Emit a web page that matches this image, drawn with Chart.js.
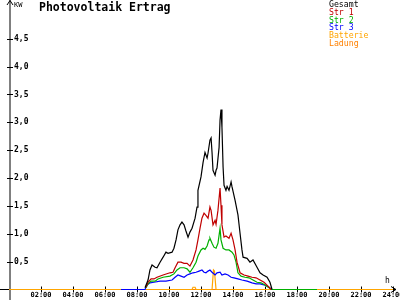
<!DOCTYPE html>
<html>
<head>
<meta charset="utf-8">
<script src="https://cdn.jsdelivr.net/npm/chart.js@4"></script>
<style>
  html, body { margin: 0; padding: 0; background: #fff; }
  #wrap { position: relative; width: 400px; height: 300px; overflow: hidden; }
  #title { position: absolute; left: 39px; top: 0px; font: bold 11.5px "DejaVu Sans Mono", monospace; color: #000; white-space: nowrap; }
  #unit { position: absolute; left: 14px; top: 1px; font: 7px "DejaVu Sans Mono", monospace; color: #000; }
  #hour { position: absolute; left: 385px; top: 276px; font: 8px "DejaVu Sans Mono", monospace; color: #000; }
  #legend { position: absolute; left: 329px; top: 1px; font: 8.2px "DejaVu Sans Mono", monospace; line-height: 7.8px; }
</style>
</head>
<body>
<div id="wrap">
  <canvas id="canvas"></canvas>
  <div id="title">Photovoltaik Ertrag</div>
  <div id="unit">KW</div>
  <div id="hour">h</div>
  <div id="legend"></div>
</div>
<script>
// series names and colours
const seriesNames = ['Gesamt', 'Str 1', 'Str 2', 'Str 3', 'Batterie', 'Ladung'];
const seriesColors = ['#000000', '#c00000', '#00b000', '#0000ff', '#ffa500', '#ff8000'];

// axis ticks
const hourTicks = [2, 4, 6, 8, 10, 12, 14, 16, 18, 20, 22, 24];
const kwTicks = [0.5, 1.0, 1.5, 2.0, 2.5, 3.0, 3.5, 4.0, 4.5];

// Gesamt (hour, kW)
const gesamtTime = [8.5, 8.69, 8.81, 8.94, 9.13, 9.25, 9.44, 9.63, 9.81, 9.94, 10.19, 10.31, 10.44, 10.56, 10.69, 10.81, 10.94, 11.06, 11.19, 11.31, 11.44, 11.63, 11.75, 11.81, 12.0, 12.13, 12.25, 12.38, 12.44, 12.56, 12.63, 12.69, 12.75, 12.88, 12.94, 13.0, 13.13, 13.19, 13.25, 13.31, 13.38, 13.44, 13.56, 13.63, 13.75, 13.88, 13.94, 14.13, 14.31, 14.44, 14.56, 14.63, 14.88, 15.06, 15.25, 15.5, 15.69, 15.88, 16.13, 16.31, 16.44];
const gesamtKW = [0.03, 0.17, 0.35, 0.44, 0.40, 0.39, 0.49, 0.58, 0.67, 0.65, 0.67, 0.74, 0.89, 1.07, 1.16, 1.21, 1.16, 1.05, 0.94, 1.03, 1.10, 1.28, 1.48, 1.78, 2.02, 2.28, 2.46, 2.36, 2.45, 2.68, 2.72, 2.46, 2.14, 2.05, 2.14, 2.18, 2.55, 3.04, 3.23, 2.91, 2.20, 1.87, 1.78, 1.85, 1.78, 1.93, 1.84, 1.60, 1.34, 1.01, 0.71, 0.58, 0.56, 0.49, 0.53, 0.40, 0.30, 0.26, 0.22, 0.13, 0];

// Str 1
const str1Time = [8.56, 8.69, 8.88, 9.06, 9.25, 9.63, 10.06, 10.25, 10.38, 10.56, 10.75, 10.94, 11.13, 11.31, 11.5, 11.69, 11.81, 11.94, 12.06, 12.19, 12.31, 12.44, 12.56, 12.63, 12.75, 12.88, 12.94, 13.06, 13.19, 13.25, 13.31, 13.44, 13.56, 13.75, 13.88, 14.0, 14.13, 14.25, 14.44, 14.69, 14.94, 15.19, 15.44, 15.69, 15.94, 16.19, 16.38];
const str1KW = [0.04, 0.13, 0.19, 0.19, 0.22, 0.26, 0.30, 0.31, 0.39, 0.49, 0.49, 0.47, 0.47, 0.42, 0.53, 0.71, 0.89, 1.10, 1.28, 1.37, 1.33, 1.28, 1.48, 1.42, 1.16, 1.24, 1.17, 1.42, 1.82, 1.51, 1.16, 0.94, 0.96, 0.92, 1.01, 0.89, 0.71, 0.49, 0.30, 0.26, 0.24, 0.22, 0.21, 0.17, 0.13, 0.06, 0];

// Str 2
const str2Time = [8.56, 8.69, 8.88, 9.13, 9.31, 9.63, 10.06, 10.31, 10.5, 10.69, 10.94, 11.13, 11.31, 11.5, 11.69, 11.81, 12.0, 12.13, 12.25, 12.38, 12.5, 12.56, 12.69, 12.81, 12.94, 13.06, 13.19, 13.25, 13.38, 13.56, 13.75, 13.94, 14.06, 14.19, 14.31, 14.5, 14.75, 15.0, 15.25, 15.5, 15.75, 16.0, 16.25, 16.44, 19.25];
const str2KW = [0.03, 0.10, 0.15, 0.15, 0.19, 0.22, 0.24, 0.28, 0.35, 0.39, 0.39, 0.37, 0.31, 0.39, 0.49, 0.60, 0.71, 0.74, 0.72, 0.78, 0.89, 0.92, 0.83, 0.76, 0.74, 0.83, 1.10, 0.89, 0.74, 0.71, 0.71, 0.67, 0.62, 0.49, 0.30, 0.24, 0.22, 0.21, 0.17, 0.13, 0.12, 0.08, 0.03, 0, 0];

// Str 3
const str3Time = [7.0, 8.5, 8.63, 8.81, 9.06, 9.44, 9.81, 10.19, 10.38, 10.56, 10.75, 10.94, 11.13, 11.31, 11.5, 11.69, 11.88, 12.06, 12.19, 12.31, 12.44, 12.56, 12.69, 12.88, 13.0, 13.19, 13.31, 13.5, 13.69, 13.88, 14.06, 14.31, 14.56, 14.88, 15.19, 15.44, 15.69, 16.0, 16.25, 16.44];
const str3KW = [0, 0, 0.08, 0.12, 0.13, 0.15, 0.15, 0.17, 0.22, 0.26, 0.24, 0.22, 0.26, 0.28, 0.30, 0.31, 0.33, 0.35, 0.31, 0.30, 0.33, 0.35, 0.31, 0.26, 0.30, 0.31, 0.26, 0.28, 0.26, 0.22, 0.21, 0.19, 0.17, 0.15, 0.12, 0.10, 0.10, 0.08, 0.04, 0];

// Batterie
const battTime = [0, 11.44, 11.5, 11.63, 11.69, 12.69, 12.78, 12.84, 12.94, 24];
const battKW = [0, 0, 0.04, 0.04, 0, 0, 0.35, 0.33, 0, 0];

// Ladung
const ladungTime = [0, 24];
const ladungKW = [0, 0];

const times = [gesamtTime, str1Time, str2Time, str3Time, battTime, ladungTime];
const values = [gesamtKW, str1KW, str2KW, str3KW, battKW, ladungKW];

// legend as coloured text
const legendEl = document.getElementById('legend');
seriesNames.forEach((name, i) => {
    const row = document.createElement('div');
    row.textContent = name;
    row.style.color = seriesColors[i];
    legendEl.appendChild(row);
});

// draw the axes with arrows and tick marks
const axesPlugin = {
    id: 'axes',
    beforeDatasetsDraw(chart) {
        const ctx = chart.ctx;
        const x = chart.scales.x;
        const y = chart.scales.y;
        const x0 = x.getPixelForValue(0) + 1;
        const y0 = y.getPixelForValue(0);
        ctx.save();
        ctx.strokeStyle = '#000';
        ctx.lineWidth = 1;
        ctx.beginPath();
        // y axis + arrow
        ctx.moveTo(x0, 0);
        ctx.lineTo(x0, 300);
        ctx.moveTo(x0 - 3, 5);
        ctx.lineTo(x0, 0.5);
        ctx.lineTo(x0 + 3, 5);
        // x axis + arrow
        ctx.moveTo(0, y0);
        ctx.lineTo(396, y0);
        ctx.moveTo(391, y0 - 3);
        ctx.lineTo(396, y0);
        ctx.lineTo(391, y0 + 3);
        // tick marks
        kwTicks.forEach(v => {
            const py = Math.round(y.getPixelForValue(v)) + 0.5;
            ctx.moveTo(x0 - 3, py);
            ctx.lineTo(x0 + 3, py);
        });
        hourTicks.forEach(h => {
            const px = Math.round(x.getPixelForValue(h)) + 0.5;
            ctx.moveTo(px, y0 - 3);
            ctx.lineTo(px, y0 + 3);
        });
        ctx.stroke();
        ctx.restore();
    }
};

const datasets = seriesNames.map((name, i) => ({
    label: name,
    data: times[i].map((t, j) => ({ x: t, y: values[i][j] })),
    borderColor: seriesColors[i],
    borderWidth: 1.2,
    pointRadius: 0,
    showLine: true,
    fill: false,
    clip: false,
    order: i
}));

new Chart(document.getElementById('canvas').getContext('2d'), {
    type: 'scatter',
    data: { datasets: datasets },
    options: {
        responsive: true,
        maintainAspectRatio: false,
        animation: false,
        events: [],
        layout: { autoPadding: false, padding: { left: 0, right: 7, top: 0, bottom: 0 } },
        plugins: {
            legend: { display: false },
            tooltip: { enabled: false },
            title: { display: false }
        },
        scales: {
            x: {
                type: 'linear',
                min: 0,
                max: 24,
                grid: { display: false, drawTicks: false },
                border: { display: false },
                afterBuildTicks: s => { s.ticks = hourTicks.map(v => ({ value: v })); },
                afterFit: s => { s.height = 10.5; s.paddingLeft = 0; s.paddingRight = 0; },
                ticks: {
                    autoSkip: false,
                    maxRotation: 0,
                    padding: 1,
                    color: '#000',
                    font: { family: 'DejaVu Sans Mono', size: 7, weight: 'bold' },
                    callback: v => String(v).padStart(2, '0') + ':00'
                }
            },
            y: {
                type: 'linear',
                min: 0,
                max: 5.02,
                grid: { display: false, drawTicks: false },
                border: { display: false },
                afterBuildTicks: s => { s.ticks = kwTicks.map(v => ({ value: v })); },
                afterFit: s => { s.width = 9; },
                ticks: {
                    mirror: true,
                    padding: 5,
                    color: '#000',
                    font: { family: 'DejaVu Sans Mono', size: 8, weight: 'bold' },
                    callback: v => v.toFixed(1).replace('.', ',')
                }
            }
        }
    },
    plugins: [axesPlugin]
});
</script>
</body>
</html>
